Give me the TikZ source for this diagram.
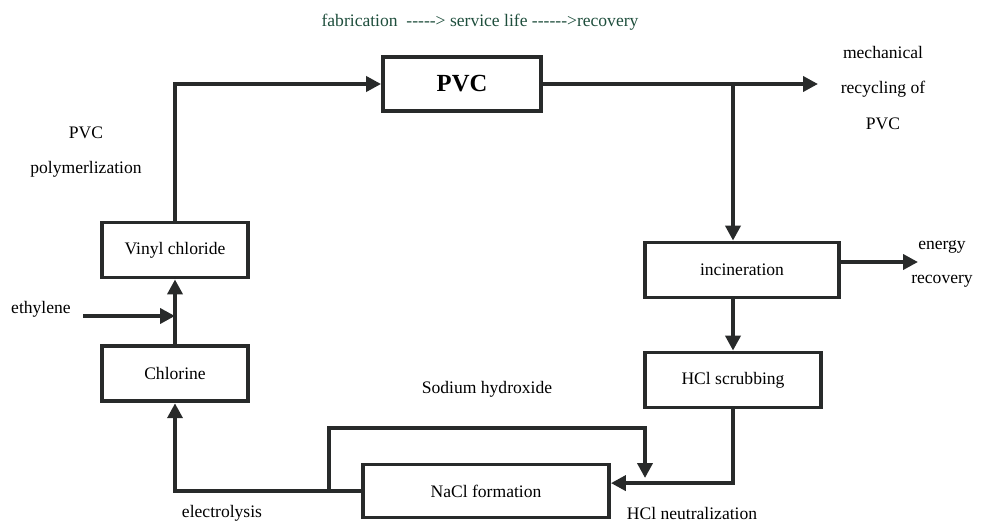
\documentclass[tikz,border=0pt]{standalone}
\usepackage{fontspec}
\setmainfont{Liberation Serif}
\newfontfamily\semLigadura{Liberation Serif}[Ligatures=TeXOff]
\usepackage{xcolor}
\usetikzlibrary{arrows.meta,positioning,calc}
\definecolor{verdeTitulo}{RGB}{30,78,60}
\definecolor{traco}{RGB}{40,42,42}
\tikzset{
    bloco/.style={
        rectangle,
        draw=traco,
        line width=2.2pt,
        align=center,
        minimum height=1.1cm,
        minimum width=2.92cm
    },
    fluxo/.style={-{Triangle[length=8.5pt,width=8.5pt]}, line width=2.2pt, draw=traco},
    rotulo/.style={align=center, inner sep=0pt}
}

\begin{document}
\begin{tikzpicture}[x=0.02cm, y=-0.02cm, font=\fontsize{10}{12}\selectfont]
        \useasboundingbox (0,0) rectangle (982,524);
        \node[rotulo, text=verdeTitulo, font=\fontsize{10}{12}\semLigadura] (titulo) at (480,22)
            {fabrication \ -----> service life ------>recovery};
        \node[bloco, minimum width=3.16cm, minimum height=1.08cm,
            font=\fontsize{14}{16}\selectfont\bfseries] (pvc) at (462,84)
            {PVC};
        \node[bloco] (vinil) at (175,250)
            {Vinyl chloride};
        \node[bloco, below=1.3cm of vinil] (cloro)
            {Chlorine};
        \node[bloco, minimum width=3.88cm] (incin) at (742,270)
            {incineration};
        \node[bloco, minimum width=3.52cm] (hcl) at (733,380)
            {HCl scrubbing};
        \node[bloco, minimum width=4.92cm, minimum height=1.06cm] (nacl) at (486,491)
            {NaCl formation};
        \node[rotulo, font=\fontsize{10}{20}\selectfont] (mecLbl) at (883,88)
            {mechanical\\recycling of\\PVC};
        \node[rotulo, font=\fontsize{10}{19}\selectfont] (enerLbl) at (942,264)
            {energy\\recovery};
        \node[rotulo, font=\fontsize{10}{20}\selectfont] (polLbl) at (86,152)
            {PVC\\polymerlization};
        \node[rotulo] (etiLbl) at (41,309) {ethylene};
        \node[rotulo] (sodaLbl) at (487,389) {Sodium hydroxide};
        \node[rotulo] (eletLbl) at (222,513) {electrolysis};
        \node[rotulo] (neutLbl) at (692,513) {HCl neutralization};
        \coordinate (mecanico) at (818,84);
        \coordinate (energia) at (918,262);
        \coordinate (etileno) at (83,316);
        \coordinate (sodaA) at (329,491);
        \coordinate (sodaB) at (645,478);
        \draw[fluxo] (vinil.north) |- (pvc.west);
        \draw[fluxo] (pvc.east) -- (mecanico);
        \draw[fluxo] (hcl.north |- pvc.east) -- (hcl.north |- incin.north);
        \draw[fluxo] (cloro.north) -- (vinil.south);
        \draw[fluxo] (etileno) -- (etileno -| cloro.north);
        \draw[fluxo] (incin.east |- energia) -- (energia);
        \draw[fluxo] (hcl.north |- incin.south) -- (hcl.north);
        \draw[fluxo] (hcl.south) |- ([yshift=4.5pt]nacl.east);
        \draw[fluxo] (nacl.west) -| (cloro.south);
        \draw[fluxo] (sodaA) -- ++(0,-63) -| (sodaB);
    \end{tikzpicture}
\end{document}
